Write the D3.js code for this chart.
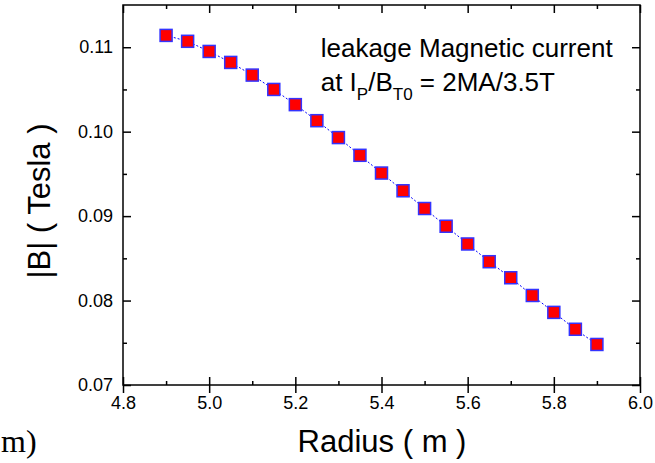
<!DOCTYPE html>
<html>
<head>
<meta charset="utf-8">
<script src="https://cdn.jsdelivr.net/npm/d3@7"></script>
<style>
  body { margin: 0; background: #fff; }
  text { font-family: Arial, "Liberation Sans", sans-serif; fill: #000; }
</style>
</head>
<body>
<div id="wrapper"></div>
<script>
// data
const radius = [4.90, 4.95, 5.00, 5.05, 5.10, 5.15, 5.20, 5.25, 5.30, 5.35, 5.40,
                5.45, 5.50, 5.55, 5.60, 5.65, 5.70, 5.75, 5.80, 5.85, 5.90]
const field = [0.1114, 0.1107, 0.1095, 0.1082, 0.1067, 0.1050, 0.1032, 0.1013, 0.0993, 0.0972, 0.0951,
               0.0930, 0.0909, 0.0888, 0.0867, 0.0846, 0.0827, 0.0806, 0.0786, 0.0766, 0.0748]
const xTicks = [4.8, 5.0, 5.2, 5.4, 5.6, 5.8, 6.0]
const xMinor = [4.9, 5.1, 5.3, 5.5, 5.7, 5.9]
const yTicks = [0.07, 0.08, 0.09, 0.10, 0.11]
const yMinor = [0.075, 0.085, 0.095, 0.105]

const dataset = radius.map((r, i) => ({ r: r, b: field[i] }))

// dimensions
const dimensions = {
    width: 655,
    height: 463,
    margin: { top: 5, right: 15, bottom: 78, left: 123 },
}
dimensions.boundedWidth = dimensions.width - dimensions.margin.left - dimensions.margin.right
dimensions.boundedHeight = dimensions.height - dimensions.margin.top - dimensions.margin.bottom

const svg = d3.select("#wrapper")
    .append("svg")
    .attr("width", dimensions.width)
    .attr("height", dimensions.height)

const bounds = svg.append("g")
    .attr("transform", `translate(${dimensions.margin.left}, ${dimensions.margin.top})`)

// scales
const x = d3.scaleLinear().domain([4.8, 6.0]).range([0, dimensions.boundedWidth])
const y = d3.scaleLinear().domain([0.07, 0.115]).range([dimensions.boundedHeight, 0])

// axes helper: strip domain paths, style ticks
function styleAxis(g) {
    g.select(".domain").remove()
    g.selectAll(".tick line").attr("stroke", "#000").attr("stroke-width", 1.5)
    g.selectAll(".tick text").style("font-size", "18px").attr("fill", "#000")
}

// bottom: labelled ticks going out, plus inward halves and minor
bounds.append("g")
    .attr("transform", `translate(0, ${dimensions.boundedHeight})`)
    .call(d3.axisBottom(x).tickValues(xTicks).tickSize(8).tickPadding(3).tickFormat(d3.format(".1f")))
    .call(styleAxis)
bounds.append("g")
    .attr("transform", `translate(0, ${dimensions.boundedHeight})`)
    .call(d3.axisTop(x).tickValues(xTicks).tickSize(8).tickFormat(""))
    .call(styleAxis)
bounds.append("g")
    .attr("transform", `translate(0, ${dimensions.boundedHeight})`)
    .call(d3.axisTop(x).tickValues(xMinor).tickSize(4).tickFormat(""))
    .call(styleAxis)

// top: inward ticks
bounds.append("g")
    .call(d3.axisBottom(x).tickValues(xTicks).tickSize(8).tickFormat(""))
    .call(styleAxis)
bounds.append("g")
    .call(d3.axisBottom(x).tickValues(xMinor).tickSize(4).tickFormat(""))
    .call(styleAxis)

// left: labels, inward ticks
bounds.append("g")
    .call(d3.axisLeft(y).tickValues(yTicks).tickSize(0).tickPadding(10).tickFormat(d3.format(".2f")))
    .call(styleAxis)
bounds.append("g")
    .call(d3.axisRight(y).tickValues(yTicks).tickSize(8).tickFormat(""))
    .call(styleAxis)
bounds.append("g")
    .call(d3.axisRight(y).tickValues(yMinor).tickSize(4).tickFormat(""))
    .call(styleAxis)

// right: inward ticks
bounds.append("g")
    .attr("transform", `translate(${dimensions.boundedWidth}, 0)`)
    .call(d3.axisLeft(y).tickValues(yTicks).tickSize(8).tickFormat(""))
    .call(styleAxis)
bounds.append("g")
    .attr("transform", `translate(${dimensions.boundedWidth}, 0)`)
    .call(d3.axisLeft(y).tickValues(yMinor).tickSize(4).tickFormat(""))
    .call(styleAxis)

// frame
bounds.append("rect")
    .attr("width", dimensions.boundedWidth)
    .attr("height", dimensions.boundedHeight)
    .attr("fill", "none")
    .attr("stroke", "#000")
    .attr("stroke-width", 1.5)

// data line
const line = d3.line().x(d => x(d.r)).y(d => y(d.b))
bounds.append("path")
    .datum(dataset)
    .attr("d", line)
    .attr("fill", "none")
    .attr("stroke", "#0000ff")
    .attr("stroke-width", 1)
    .attr("stroke-dasharray", "2,2")

// markers
const size = 12
bounds.selectAll("rect.pt")
    .data(dataset)
    .enter().append("rect")
    .attr("class", "pt")
    .attr("x", d => x(d.r) - size / 2)
    .attr("y", d => y(d.b) - size / 2)
    .attr("width", size)
    .attr("height", size)
    .attr("fill", "#ff0000")
    .attr("stroke", "#3333ff")
    .attr("stroke-width", 1.5)

// annotation
const note = bounds.append("g")
    .attr("transform", `translate(${320.7 - dimensions.margin.left}, ${57.3 - dimensions.margin.top})`)
note.append("text")
    .style("font-size", "26px")
    .text("leakage Magnetic current")
const line2 = note.append("text")
    .attr("y", 34)
    .style("font-size", "26px")
line2.append("tspan").text("at I")
line2.append("tspan").attr("dy", 9).style("font-size", "17px").text("P")
line2.append("tspan").attr("dy", -9).text("/B")
line2.append("tspan").attr("dy", 9).style("font-size", "17px").text("T0")
line2.append("tspan").attr("dy", -9).text(" = 2MA/3.5T")

// axis labels
svg.append("text")
    .attr("x", 382)
    .attr("y", 452)
    .attr("text-anchor", "middle")
    .style("font-size", "31px")
    .text("Radius ( m )")

svg.append("text")
    .attr("transform", "translate(50, 201) rotate(-90)")
    .attr("text-anchor", "middle")
    .style("font-size", "31px")
    .text("|B| ( Tesla )")

// fragment at the lower left edge
svg.append("text")
    .attr("x", 1)
    .attr("y", 452)
    .style("font-family", "'Liberation Serif', 'Times New Roman', serif")
    .style("font-size", "32px")
    .text("m)")
</script>
</body>
</html>
